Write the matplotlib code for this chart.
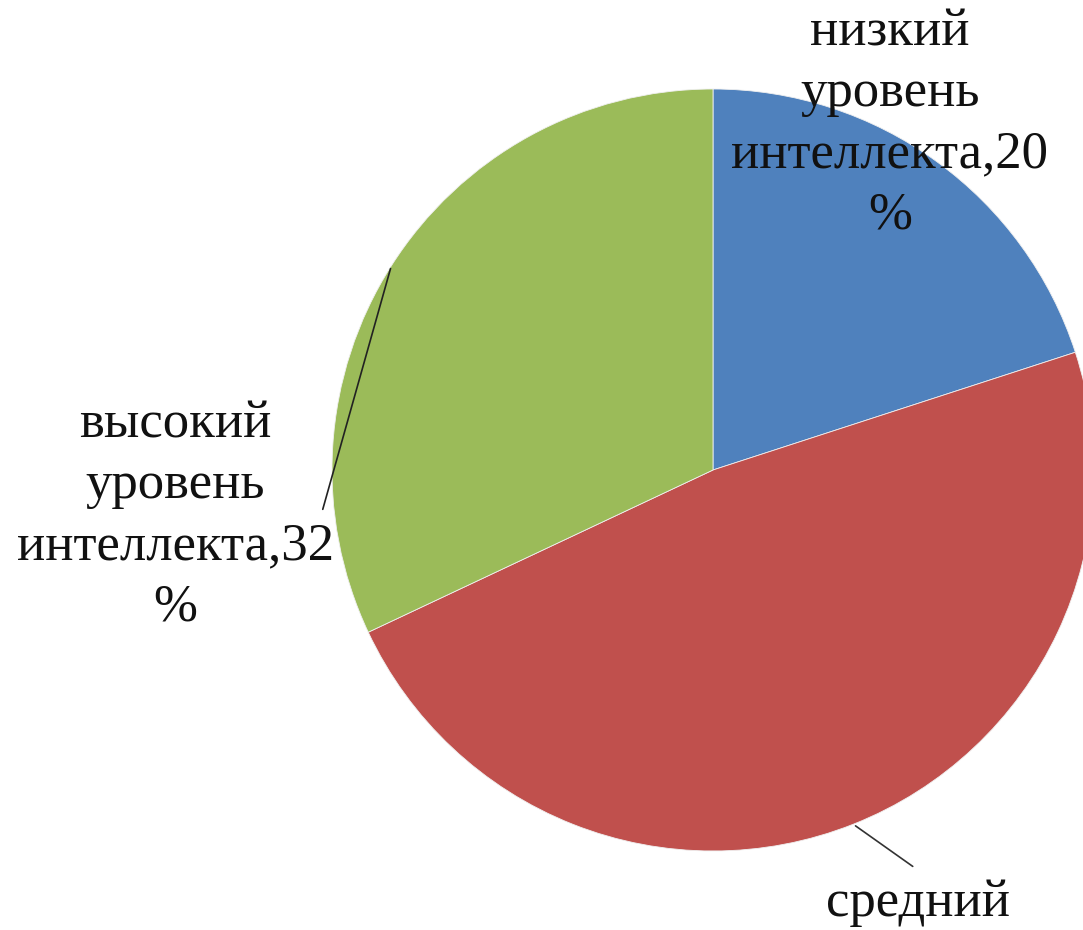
import numpy as np
import matplotlib
matplotlib.use("Agg")
import matplotlib.pyplot as plt

categories = ["низкий\nуровень\nинтеллекта,20\n%",
              "средний\nуровень\nинтеллекта,48\n%",
              "высокий\nуровень\nинтеллекта,32\n%"]
values = [20, 48, 32]
colors = ["#4F81BD", "#C0504D", "#9BBB59"]

W, H = 1083, 930
fig = plt.figure(figsize=(W / 100, H / 100), dpi=100)
ax = fig.add_axes([0, 0, 1, 1])

cx, cy, R = 713, 470, 381
# y axis is inverted, so counterclock=True draws clockwise on screen
wedges, _ = ax.pie(values, colors=colors, startangle=-90, counterclock=True,
                   center=(cx, cy), radius=R, frame=True,
                   wedgeprops=dict(edgecolor="#f0f0f0", linewidth=0.6))
ax.set_xlim(0, W)
ax.set_ylim(H, 0)
ax.set_aspect("equal")
ax.axis("off")

font = dict(family="Liberation Serif", fontsize=38, color="#111111",
            ha="center", va="center", multialignment="center", linespacing=1.36)

def edge_point(w):
    mid = np.deg2rad((w.theta1 + w.theta2) / 2)
    return cx + R * np.cos(mid), cy + R * np.sin(mid)

# top label (blue)
ax.text(890, 124, categories[0], **font)
# bottom label (red), runs off the bottom edge as in the original
ax.text(918, 995, categories[1], **font)
ax.annotate("", xy=edge_point(wedges[1]), xytext=(915, 868),
            arrowprops=dict(arrowstyle="-", color="#333333", lw=1.2))
# left label (green)
ax.text(175, 516, categories[2], **font)
ax.annotate("", xy=edge_point(wedges[2]), xytext=(322, 512),
            arrowprops=dict(arrowstyle="-", color="#222222", lw=1.2))

fig.savefig("out.png", dpi=100)
